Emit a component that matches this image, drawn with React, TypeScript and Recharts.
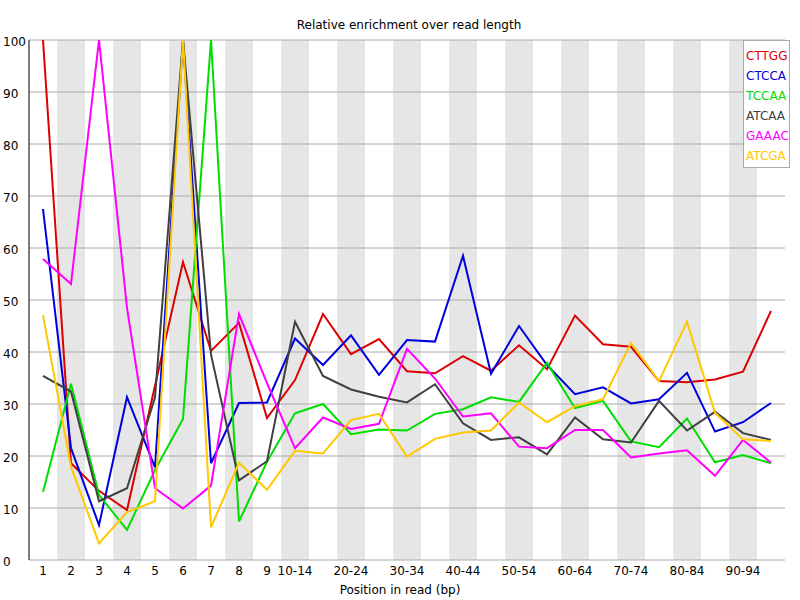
import React from 'react';
import { LineChart, Line, XAxis, YAxis, ReferenceArea, ReferenceLine } from 'recharts';

const categories = ['1', '2', '3', '4', '5', '6', '7', '8', '9', '10-14', '15-19', '20-24', '25-29', '30-34', '35-39', '40-44', '45-49', '50-54', '55-59', '60-64', '65-69', '70-74', '75-79', '80-84', '85-89', '90-94', '95-99'];
const xTickLabels = ['1', '2', '3', '4', '5', '6', '7', '8', '9', '10-14', '20-24', '30-34', '40-44', '50-54', '60-64', '70-74', '80-84', '90-94'];
const yTicks = [0, 10, 20, 30, 40, 50, 60, 70, 80, 90, 100];

const kmerNames = ['CTTGG', 'CTCCA', 'TCCAA', 'ATCAA', 'GAAAC', 'ATCGA'];
const kmerColors = ['#dd0000', '#0000dd', '#00dd00', '#404040', '#ff00ff', '#ffc800'];

const cttgg = [100, 18.6, 13.3, 9.6, 33.5, 57.3, 40.2, 45.6, 27.3, 34.6, 47.3, 39.6, 42.5, 36.3, 35.9, 39.2, 36.4, 41.3, 36.7, 47.0, 41.5, 41.0, 34.4, 34.2, 34.7, 36.2, 47.9];
const ctcca = [67.5, 21.5, 6.7, 31.3, 17.8, 100, 18.6, 30.2, 30.3, 42.6, 37.5, 43.2, 35.6, 42.3, 42.0, 58.5, 35.8, 45.0, 37.5, 31.9, 33.2, 30.1, 30.9, 36.0, 24.7, 26.5, 30.2];
const tccaa = [13.1, 33.9, 12.5, 5.8, 17.3, 27.1, 100, 7.4, 18.9, 28.2, 30.0, 24.2, 25.1, 24.9, 28.1, 29.0, 31.3, 30.4, 37.9, 29.2, 30.6, 22.8, 21.7, 27.2, 18.8, 20.2, 18.6];
const atcaa = [35.4, 32.4, 11.3, 13.8, 31.3, 100, 39.5, 15.3, 19.0, 45.8, 35.4, 32.8, 31.4, 30.3, 33.8, 26.3, 23.1, 23.6, 20.3, 27.4, 23.2, 22.6, 30.6, 24.9, 28.5, 24.4, 23.1];
const gaaac = [57.9, 53.1, 100, 48.5, 13.8, 9.9, 14.3, 47.3, 34.0, 21.5, 27.4, 25.2, 26.2, 40.6, 34.9, 27.6, 28.2, 21.8, 21.5, 25.0, 25.0, 19.7, 20.5, 21.1, 16.2, 23.1, 18.7];
const atcga = [47.1, 17.9, 3.2, 9.2, 11.3, 100, 6.3, 18.7, 13.5, 21.0, 20.5, 26.9, 28.1, 19.9, 23.3, 24.5, 24.9, 30.3, 26.5, 29.6, 30.9, 41.7, 34.4, 45.8, 28.3, 23.2, 22.9];

const seriesValues = [cttgg, ctcca, tccaa, atcaa, gaaac, atcga];

const data = categories.map((pos, i) => {
  const row: Record<string, string | number> = { pos };
  kmerNames.forEach((name, j) => {
    row[name] = seriesValues[j][i];
  });
  return row;
});

const shadedCategories = categories.filter((_, i) => i % 2 === 1);

const FONT = '"DejaVu Sans", sans-serif';

const YTick = (props: any) => (
  <text x={3} y={props.y} dy={5.5} fontSize={12} fontFamily={FONT} fill="#000" textAnchor="start">
    {props.payload.value}
  </text>
);

const XTick = (props: any) => {
  const v = props.payload.value;
  if (!xTickLabels.includes(v)) return <g />;
  return (
    <text x={props.x} y={575} fontSize={12} fontFamily={FONT} fill="#000" textAnchor="middle">
      {v}
    </text>
  );
};

export default function App() {
  return (
    <div style={{ position: 'absolute', left: 0, top: 0, width: 800, height: 600, background: '#fff', fontFamily: FONT }}>
      <LineChart width={800} height={600} data={data} margin={{ top: 40, right: 15, bottom: 10, left: 0 }}>
        <XAxis
          dataKey="pos"
          scale="band"
          interval={0}
          height={30}
          tickSize={0}
          tickLine={false}
          tick={<XTick />}
          axisLine={{ stroke: '#aaaaaa' }}
        />
        <YAxis
          domain={[0, 100]}
          ticks={yTicks}
          allowDataOverflow
          width={29}
          tickSize={0}
          tickLine={false}
          tick={<YTick />}
          axisLine={{ stroke: '#000000' }}
        />
        {shadedCategories.map((c) => (
          <ReferenceArea key={c} x1={c} x2={c} fill="#e6e6e6" fillOpacity={1} stroke="none" ifOverflow="hidden" />
        ))}
        {yTicks.filter((v) => v > 0).map((v) => (
          <ReferenceLine key={v} y={v} stroke="#aaaaaa" strokeWidth={1} />
        ))}
        {kmerNames.map((name, j) => (
          <Line
            key={name}
            type="linear"
            dataKey={name}
            stroke={kmerColors[j]}
            strokeWidth={2}
            dot={false}
            activeDot={false}
            isAnimationActive={false}
          />
        ))}
      </LineChart>
      <div style={{ position: 'absolute', left: 0, width: 818, top: 17, textAlign: 'center', fontSize: 12, color: '#000', lineHeight: '16px' }}>
        Relative enrichment over read length
      </div>
      <div style={{ position: 'absolute', left: 0, width: 800, top: 582, textAlign: 'center', fontSize: 12, color: '#000', lineHeight: '16px' }}>
        Position in read (bp)
      </div>
      <div style={{ position: 'absolute', left: 743, top: 40, width: 45, height: 121, border: '1px solid #aaaaaa', background: '#fff', paddingTop: 5, boxSizing: 'content-box' }}>
        {kmerNames.map((name, j) => (
          <div key={name} style={{ color: kmerColors[j], fontSize: 12, lineHeight: '20px', height: 20, paddingLeft: 2, whiteSpace: 'nowrap' }}>
            {name}
          </div>
        ))}
      </div>
    </div>
  );
}
